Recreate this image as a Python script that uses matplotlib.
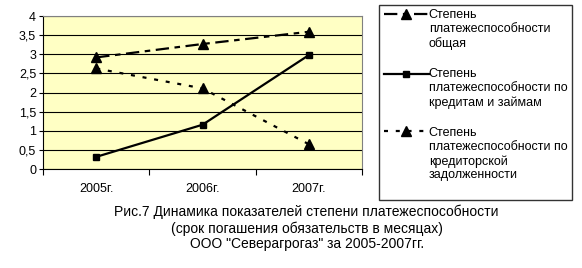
import matplotlib
matplotlib.use("Agg")
import matplotlib.pyplot as plt
from matplotlib.legend_handler import HandlerLine2D

plt.rcParams['font.family'] = ['Liberation Sans', 'DejaVu Sans']

years = ['2005г.', '2006г.', '2007г.']
general = [2.92, 3.27, 3.59]
credits = [0.32, 1.16, 2.98]
payables = [2.63, 2.11, 0.65]
labels = ['Степень\nплатежеспособности\nобщая',
          'Степень\nплатежеспособности по\nкредитам и займам',
          'Степень\nплатежеспособности по\nкредиторской\nзадолженности\n']


# Excel-style legend: handle sits next to the first line of a multi-line label
class TopLineHandler(HandlerLine2D):
    def __init__(self, nlines, **kw):
        super().__init__(**kw)
        self.nlines = nlines

    def create_artists(self, legend, orig_handle, xdescent, ydescent,
                       width, height, fontsize, trans):
        arts = super().create_artists(legend, orig_handle, xdescent, ydescent,
                                      width, height, fontsize, trans)
        shift = (self.nlines - 1) / 2 * 1.2 * fontsize
        for a in arts:
            a.set_ydata([y + shift for y in a.get_ydata()])
        return arts


fig = plt.figure(figsize=(5.82, 2.68), dpi=100)
ax = fig.add_axes([0.074, 0.369, 0.548, 0.571])
ax.set_facecolor('#FFFFC4')

x = list(range(len(years)))
l1, = ax.plot(x, general, color='black', lw=1.6, dashes=(6, 2.5, 2.5, 2.5),
              marker='^', ms=6.5, label=labels[0])
l2, = ax.plot(x, credits, color='black', lw=1.6, marker='s', ms=5, label=labels[1])
l3, = ax.plot(x, payables, color='black', lw=1.6, dashes=(1.8, 3.5),
              marker='^', ms=6.5, label=labels[2])

ax.set_xlim(-0.5, 2.5)
ax.set_ylim(0, 4)
ax.set_yticks([0, 0.5, 1, 1.5, 2, 2.5, 3, 3.5, 4])
ax.set_yticklabels(['0', '0,5', '1', '1,5', '2', '2,5', '3', '3,5', '4'], fontsize=9)
ax.set_xticks([-0.5, 0.5, 1.5, 2.5])
ax.set_xticklabels([])
ax.set_xticks(x, minor=True)
ax.set_xticklabels(years, minor=True, fontsize=9)
ax.tick_params(axis='x', which='minor', length=0, pad=10)
ax.tick_params(axis='x', which='major', length=4, direction='out')
ax.tick_params(axis='y', length=3, direction='out', pad=2)
ax.yaxis.grid(True, color='black', lw=0.8)
ax.set_axisbelow(True)
for s in ['top', 'right']:
    ax.spines[s].set_color('#808080')

handles = [l1, l2, l3]
hmap = {h: TopLineHandler(lab.count('\n') + 1) for h, lab in zip(handles, labels)}
leg = fig.legend(handles=handles, labels=labels, handler_map=hmap,
                 loc='upper left', bbox_to_anchor=(0.652, 0.983), borderaxespad=0,
                 fontsize=9, frameon=True, fancybox=False, edgecolor='black',
                 handlelength=3.6, labelspacing=1.5, borderpad=0.35,
                 handletextpad=0.0)
leg.get_frame().set_linewidth(1.0)

fig.text(0.527, 0.149, 'Рис.7 Динамика показателей степени платежеспособности\n'
         '(срок погашения обязательств в месяцах)\n'
         'ООО "Северагрогаз" за 2005-2007гг.',
         ha='center', va='center', fontsize=10, linespacing=1.15)

fig.savefig('out.png', dpi=100)
